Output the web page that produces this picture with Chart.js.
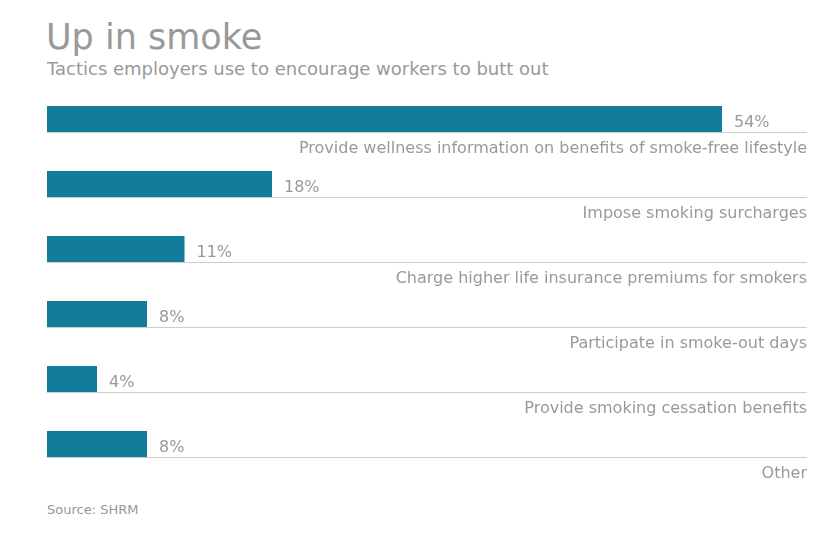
<!DOCTYPE html>
<html><head><meta charset="utf-8">
<script src="https://cdn.jsdelivr.net/npm/chart.js"></script>
<style>
body{margin:0;width:840px;height:547px;background:#fff;font-family:"DejaVu Sans",sans-serif;color:#999;position:relative;overflow:hidden}
#t{position:absolute;left:46px;top:17px;font-size:35px;color:#999}
#s{position:absolute;left:47px;top:58px;font-size:18px;color:#999}
#src{position:absolute;left:47px;top:502px;font-size:13px;color:#999}
canvas{position:absolute;left:0;top:0}
</style></head><body>
<div id="t">Up in smoke</div>
<div id="s">Tactics employers use to encourage workers to butt out</div>
<div id="src">Source: SHRM</div>
<canvas id="c" width="840" height="547"></canvas>
<script>
const categories=["Provide wellness information on benefits of smoke-free lifestyle","Impose smoking surcharges","Charge higher life insurance premiums for smokers","Participate in smoke-out days","Provide smoking cessation benefits","Other"];
const values=[54,18,11,8,4,8];
const valueLabels=["54%","18%","11%","8%","4%","8%"];
const xMax=60.8;
const labelPlugin={id:'lbl',afterDatasetsDraw(ch){
 const ctx=ch.ctx,meta=ch.getDatasetMeta(0),a=ch.chartArea;
 ctx.save();
 meta.data.forEach((b,i)=>{
  const bottom=b.y+b.height/2;
  ctx.strokeStyle='#cccccc';ctx.lineWidth=1;
  ctx.beginPath();ctx.moveTo(a.left,Math.round(bottom)+0.5);ctx.lineTo(a.right,Math.round(bottom)+0.5);ctx.stroke();
  ctx.fillStyle='#999';ctx.font='16px "DejaVu Sans"';ctx.textBaseline='middle';
  ctx.textAlign='left';ctx.fillText(valueLabels[i],b.x+12,b.y+4);
  ctx.textAlign='right';ctx.fillText(categories[i],a.right,bottom+17);
 });
 ctx.restore();}};
new Chart(document.getElementById('c'),{type:'bar',
 data:{labels:categories,datasets:[{data:values,backgroundColor:'#127d9b',barPercentage:0.4,categoryPercentage:1}]},
 options:{indexAxis:'y',responsive:false,animation:false,
  layout:{padding:{left:47,right:33,top:86.5,bottom:70.5}},
  plugins:{legend:{display:false},tooltip:{enabled:false}},
  scales:{x:{display:false,min:0,max:xMax},y:{display:false}}},
 plugins:[labelPlugin]});
</script></body></html>
